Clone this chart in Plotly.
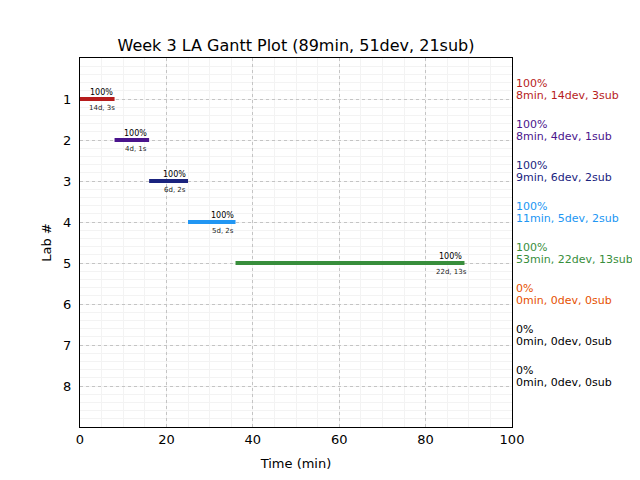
import plotly.graph_objects as go

labs = [1, 2, 3, 4, 5, 6, 7, 8]
starts = [0, 8, 16, 25, 36, None, None, None]
ends = [8, 16, 25, 36, 89, None, None, None]
pcts = [100, 100, 100, 100, 100, 0, 0, 0]
minutes = [8, 8, 9, 11, 53, 0, 0, 0]
devs = [14, 4, 6, 5, 22, 0, 0, 0]
subs = [3, 1, 2, 2, 13, 0, 0, 0]
colors = ["#B71C1C", "#4A148C", "#1A237E", "#2196F3", "#388E3C", "#E65100", "#000000", "#000000"]
title = "Week 3 LA Gantt Plot (89min, 51dev, 21sub)"

FONT = "DejaVu Sans"
fig = go.Figure()
annotations = []
for lab, s, e, p, m, d, sb, c in zip(labs, starts, ends, pcts, minutes, devs, subs, colors):
    if s is not None:
        fig.add_trace(go.Scatter(x=[s, e], y=[lab, lab], mode="lines",
                                 line=dict(color=c, width=4), showlegend=False,
                                 hoverinfo="skip"))
        annotations.append(dict(x=e, y=lab, xref="x", yref="y", text=f"{p}%",
                                showarrow=False, xanchor="right", yanchor="middle",
                                yshift=7, font=dict(family=FONT, size=8, color="black")))
        annotations.append(dict(x=e - 3, y=lab, xref="x", yref="y", text=f"{d}d, {sb}s",
                                showarrow=False, xanchor="center", yanchor="middle",
                                yshift=-9, font=dict(family=FONT, size=7, color="#222222")))
    annotations.append(dict(x=1.004, y=lab, xref="paper", yref="y", text=f"{p}%",
                            showarrow=False, xanchor="left", yanchor="middle",
                            yshift=16, font=dict(family=FONT, size=11, color=c)))
    annotations.append(dict(x=1.004, y=lab, xref="paper", yref="y",
                            text=f"{m}min, {d}dev, {sb}sub",
                            showarrow=False, xanchor="left", yanchor="middle",
                            yshift=4, font=dict(family=FONT, size=11, color=c)))

fig.update_layout(
    width=632, height=472,
    margin=dict(l=72, r=128, t=50, b=53),
    paper_bgcolor="white", plot_bgcolor="white",
    font=dict(family=FONT, size=13, color="black"),
    title=dict(text=title, x=0.5, xref="paper", xanchor="center", y=0.909,
               yanchor="bottom", font=dict(family=FONT, size=16, color="black")),
    annotations=annotations,
)
fig.update_xaxes(range=[0, 100], tickvals=[0, 20, 40, 60, 80, 100],
                 title=dict(text="Time (min)", font=dict(size=13), standoff=13),
                 showgrid=True, gridcolor="#c4c4c4", griddash="dot", gridwidth=1,
                 minor=dict(dtick=5, showgrid=True, gridcolor="#f3f3f3", gridwidth=1,
                            griddash="solid"),
                 showline=True, mirror=True, linecolor="black", linewidth=1,
                 ticks="", zeroline=False, tickfont=dict(size=13))
fig.update_yaxes(range=[9, 0], tickvals=labs, ticktext=[str(v) for v in labs],
                 title=dict(text="Lab #", font=dict(size=13), standoff=8),
                 showgrid=True, gridcolor="#c4c4c4", griddash="dot", gridwidth=1,
                 minor=dict(dtick=0.2, tick0=0, showgrid=True, gridcolor="#f3f3f3",
                            gridwidth=1, griddash="solid"),
                 showline=True, mirror=True, linecolor="black", linewidth=1,
                 ticks="", ticklabelstandoff=5, zeroline=False, tickfont=dict(size=13))

fig.write_html("out.html")
